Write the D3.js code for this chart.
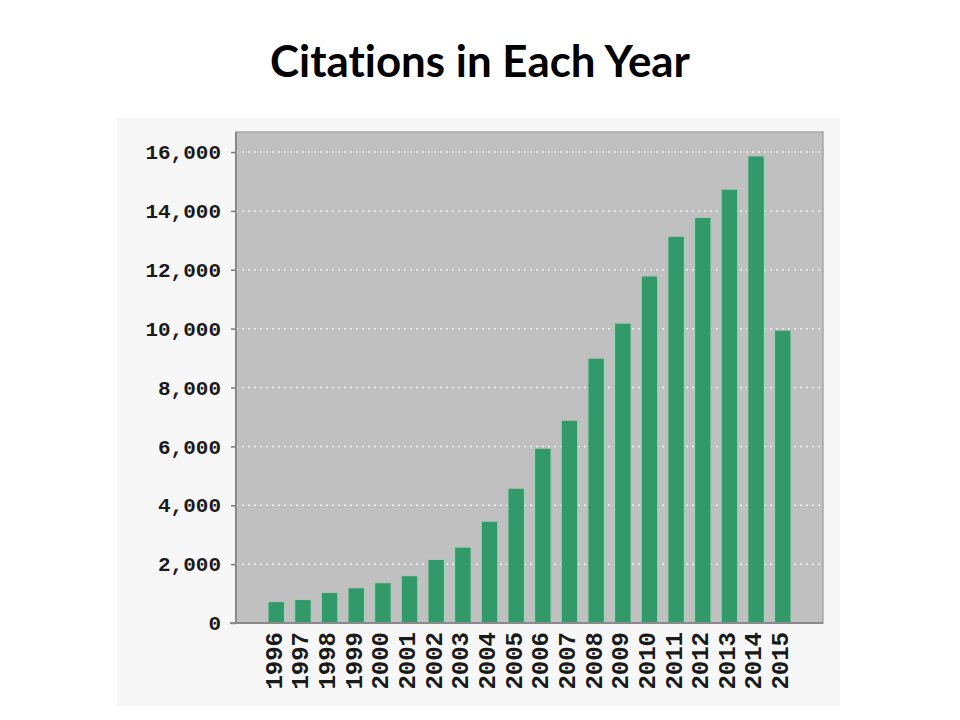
<!DOCTYPE html>
<html>
<head>
<meta charset="utf-8">
<script src="https://cdn.jsdelivr.net/npm/d3@7"></script>
<style>
  html, body { margin: 0; padding: 0; background: #ffffff; }
  svg { display: block; }
  text { font-variant-ligatures: none; font-feature-settings: "liga" 0; }
</style>
</head>
<body>
<svg id="chart" width="960" height="720"></svg>
<script>
const title = "Citations in Each Year";
const years = ["1996","1997","1998","1999","2000","2001","2002","2003","2004","2005",
               "2006","2007","2008","2009","2010","2011","2012","2013","2014","2015"];
const citations = [730, 800, 1040, 1200, 1370, 1610, 2160, 2580, 3460, 4580,
                   5940, 6890, 9000, 10190, 11790, 13140, 13780, 14740, 15870, 9950];
const yTicks = [0, 2000, 4000, 6000, 8000, 10000, 12000, 14000, 16000];

const svg = d3.select("#chart");

// outer panel
svg.append("rect").attr("x", 117).attr("y", 118).attr("width", 723).attr("height", 588)
  .attr("fill", "#f7f7f7");

const plot = { left: 236, right: 823, top: 132, bottom: 623 };

const x = d3.scaleBand().domain(years).range([plot.left, plot.right])
  .paddingInner(0.38).paddingOuter(1.2);
const y = d3.scaleLinear().domain([0, 16680]).range([plot.bottom, plot.top]);

// plot background
svg.append("rect").attr("x", plot.left).attr("y", plot.top)
  .attr("width", plot.right - plot.left).attr("height", plot.bottom - plot.top)
  .attr("fill", "#c0c0c0").attr("stroke", "#a9a9a9").attr("stroke-width", 1.5);

// grid lines
svg.append("g").selectAll("line").data(yTicks.filter(d => d > 0)).join("line")
  .attr("x1", plot.left).attr("x2", plot.right)
  .attr("y1", d => y(d)).attr("y2", d => y(d))
  .attr("stroke", "#f2f2f2").attr("stroke-width", 1.5)
  .attr("stroke-dasharray", "2,4");

// bars
svg.append("g").selectAll("rect").data(years).join("rect")
  .attr("x", (d) => x(d))
  .attr("y", (d, i) => y(citations[i]))
  .attr("width", x.bandwidth())
  .attr("height", (d, i) => y(0) - y(citations[i]))
  .attr("fill", "#31996a")
  .attr("stroke", "#9fd0b3").attr("stroke-width", 1.2);

// y axis
const yAxis = d3.axisLeft(y).tickValues(yTicks).tickSize(5).tickPadding(10)
  .tickFormat(d3.format(","));
const gy = svg.append("g").attr("transform", `translate(${plot.left},0)`).call(yAxis);
gy.select(".domain").remove();
gy.selectAll(".tick line").attr("stroke", "#777").attr("stroke-width", 1.5);
gy.selectAll(".tick text")
  .attr("font-family", "'Liberation Mono', monospace")
  .attr("font-weight", "bold").attr("font-size", 21).attr("fill", "#1a1a1a");
svg.append("line").attr("x1", plot.left).attr("x2", plot.left)
  .attr("y1", plot.top).attr("y2", plot.bottom + 1)
  .attr("stroke", "#8a8a8a").attr("stroke-width", 2);

// x axis
const xAxis = d3.axisBottom(x).tickSize(0).tickPadding(0);
const gx = svg.append("g").attr("transform", `translate(0,${plot.bottom})`).call(xAxis);
gx.select(".domain").remove();
gx.selectAll(".tick text")
  .attr("font-family", "'Liberation Mono', monospace")
  .attr("font-weight", "bold").attr("font-size", 24).attr("fill", "#1a1a1a")
  .attr("text-anchor", "end")
  .attr("transform", "rotate(-90)")
  .attr("x", -9).attr("y", -3).attr("dy", "0.35em");
svg.append("line").attr("x1", plot.left - 6).attr("x2", plot.right)
  .attr("y1", plot.bottom).attr("y2", plot.bottom)
  .attr("stroke", "#8a8a8a").attr("stroke-width", 2);

// title
const t = svg.append("text").attr("x", 480).attr("y", 77)
  .attr("text-anchor", "middle")
  .attr("font-family", "Lato, 'Open Sans', sans-serif")
  .attr("font-weight", "bold").attr("font-size", 38).attr("fill", "#000")
  .text(title);
const w = t.node().getComputedTextLength();
t.attr("font-size", 38 * 420 / w);
</script>
</body>
</html>
